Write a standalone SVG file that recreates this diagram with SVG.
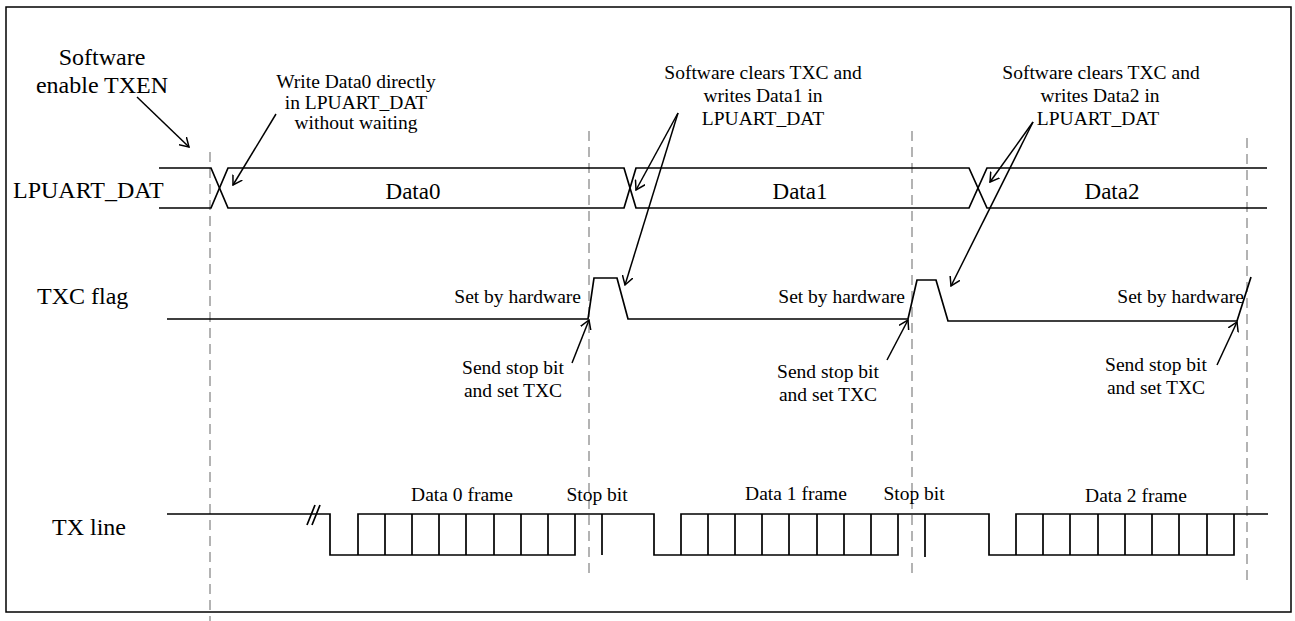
<svg xmlns="http://www.w3.org/2000/svg" width="1295" height="621" viewBox="0 0 1295 621">
<style>
text{font-family:"Liberation Serif","Times New Roman",serif;fill:#000}
.big{font-size:24px}
.sm{font-size:19.5px}
.dat{font-size:23px}
.c{text-anchor:middle}
.r{text-anchor:end}
.sig{fill:none;stroke:#000;stroke-width:1.7}
.dash{fill:none;stroke:#9a9a9a;stroke-width:1.5;stroke-dasharray:10 6}
.arr{fill:none;stroke:#000;stroke-width:1.5;marker-end:url(#ah)}
</style>
<defs>
<marker id="ah" viewBox="0 0 10 12" refX="9" refY="6" markerWidth="10" markerHeight="12" markerUnits="userSpaceOnUse" orient="auto">
<path d="M0,0.5 L9,6 L0,11.5" fill="none" stroke="#000" stroke-width="1.5"/>
</marker>
</defs>
<rect x="6" y="7" width="1285" height="605" fill="#fff" stroke="#000" stroke-width="1.5"/>

<g id="guides">
<line class="dash" x1="210" y1="152" x2="210" y2="621"/>
<line class="dash" x1="589" y1="131" x2="589" y2="578"/>
<line class="dash" x1="912" y1="131" x2="912" y2="576"/>
<line class="dash" x1="1247" y1="138" x2="1247" y2="585"/>
</g>

<g id="lpuart_dat">
<text class="big" x="13" y="198">LPUART_DAT</text>
<path class="sig" d="M159,168 H211 L228,208 H624 L636,168 H969 L987,208 H1267"/>
<path class="sig" d="M159,208 H211 L228,168 H624 L636,208 H969 L987,168 H1267"/>
<text class="dat c" x="413" y="199">Data0</text>
<text class="dat c" x="800" y="199">Data1</text>
<text class="dat c" x="1112" y="199">Data2</text>
</g>

<g id="txc_flag">
<text class="big" x="37" y="304">TXC flag</text>
<path class="sig" d="M167,319 H588 L594,278 H617 L628,319 H908 L917,280 H936 L948,321 H1237 L1251,277"/>
<text class="sm r" x="581" y="303">Set by hardware</text>
<text class="sm r" x="905" y="303">Set by hardware</text>
<text class="sm r" x="1244" y="303">Set by hardware</text>
</g>

<g id="tx_line">
<text class="big" x="52" y="535">TX line</text>
<path class="sig" d="M167,514 H330 V555 H575 V514 M358,555 V514 H654 V555 H898 V514 M681,555 V514 H989 V555 H1234 V514 M1016,555 V514 H1268"/>
<path class="sig" d="M385,514V555M412,514V555M439,514V555M466,514V555M494,514V555M521,514V555M548,514V555"/>
<path class="sig" d="M708,514V555M735,514V555M762,514V555M789,514V555M817,514V555M844,514V555M871,514V555"/>
<path class="sig" d="M1043,514V555M1070,514V555M1098,514V555M1125,514V555M1152,514V555M1179,514V555M1207,514V555"/>
<path class="sig" d="M602,514V555M925,514V557"/>
<path class="sig" d="M307,525 L315,505 M312,525 L320,505"/>
<text class="sm c" x="462" y="501">Data 0 frame</text>
<text class="sm c" x="597" y="501">Stop bit</text>
<text class="sm c" x="796" y="500">Data 1 frame</text>
<text class="sm c" x="914" y="500">Stop bit</text>
<text class="sm c" x="1136" y="502">Data 2 frame</text>
</g>

<g id="note_txen">
<text class="big c" x="102" y="65">Software</text>
<text class="big c" x="102" y="93">enable TXEN</text>
</g>
<g id="note_data0">
<text class="sm c" x="356" y="88">Write Data0 directly</text>
<text class="sm c" x="356" y="109">in LPUART_DAT</text>
<text class="sm c" x="356" y="129">without waiting</text>
</g>
<g id="note_data1">
<text class="sm c" x="763" y="79">Software clears TXC and</text>
<text class="sm c" x="763" y="102">writes Data1 in</text>
<text class="sm c" x="763" y="125">LPUART_DAT</text>
</g>
<g id="note_data2">
<text class="sm c" x="1101" y="79">Software clears TXC and</text>
<text class="sm c" x="1100" y="102">writes Data2 in</text>
<text class="sm c" x="1098" y="125">LPUART_DAT</text>
</g>
<g id="note_stop0">
<text class="sm c" x="513" y="374">Send stop bit</text>
<text class="sm c" x="513" y="397">and set TXC</text>
</g>
<g id="note_stop1">
<text class="sm c" x="828" y="378">Send stop bit</text>
<text class="sm c" x="828" y="401">and set TXC</text>
</g>
<g id="note_stop2">
<text class="sm c" x="1156" y="371">Send stop bit</text>
<text class="sm c" x="1156" y="394">and set TXC</text>
</g>

<g id="connectors">
<line class="arr" x1="137" y1="97" x2="189" y2="147"/>
<line class="arr" x1="276" y1="114" x2="233" y2="185"/>
<line class="arr" x1="678" y1="113" x2="636" y2="190"/>
<line class="arr" x1="678" y1="113" x2="625" y2="285"/>
<line class="arr" x1="1033" y1="122" x2="990" y2="182"/>
<line class="arr" x1="1033" y1="122" x2="951" y2="286"/>
<line class="arr" x1="572" y1="363" x2="589" y2="320"/>
<line class="arr" x1="887" y1="360" x2="908" y2="320"/>
<line class="arr" x1="1217" y1="365" x2="1237" y2="322"/>
</g>
</svg>
